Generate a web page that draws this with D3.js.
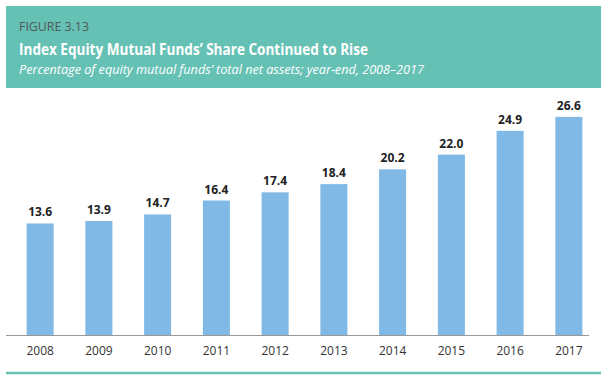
<!DOCTYPE html>
<html>
<head>
<meta charset="utf-8">
<script src="https://cdnjs.cloudflare.com/ajax/libs/d3/7.8.5/d3.min.js"></script>
<style>
  body { margin: 0; background: #fff; }
  svg { display: block; }
</style>
</head>
<body>
<script>
    // chart data
    var years = ['2008', '2009', '2010', '2011', '2012', '2013', '2014', '2015', '2016', '2017']
    var shares = [13.6, 13.9, 14.7, 16.4, 17.4, 18.4, 20.2, 22.0, 24.9, 26.6]
    var figureLabel = 'FIGURE 3.13'
    var title = 'Index Equity Mutual Funds\u2019 Share Continued to Rise'
    var subtitle = 'Percentage of equity mutual funds\u2019 total net assets; year-end, 2008\u20132017'

    var width = 606,
        height = 380,
        teal = '#66c1b5',
        barColor = '#80b9e5'

    var svg = d3.select('body').
    append('svg').
    attr('width', width).
    attr('height', height)

    // header box
    svg.append('rect').
    attr('x', 6).
    attr('y', 6).
    attr('width', 595).
    attr('height', 82).
    attr('fill', teal)

    svg.append('text').
    attr('x', 19).
    attr('y', 31).
    attr('textLength', 70).
    attr('lengthAdjust', 'spacingAndGlyphs').
    style('font-family', 'Open Sans').
    style('font-size', '13px').
    style('fill', '#4f5a58').
    text(figureLabel)

    svg.append('text').
    attr('x', 19).
    attr('y', 55).
    attr('textLength', 349).
    attr('lengthAdjust', 'spacingAndGlyphs').
    style('font-family', 'Open Sans').
    style('font-weight', 'bold').
    style('font-size', '16px').
    style('fill', '#fff').
    text(title)

    svg.append('text').
    attr('x', 19).
    attr('y', 74).
    attr('textLength', 405).
    attr('lengthAdjust', 'spacingAndGlyphs').
    style('font-family', 'Open Sans').
    style('font-style', 'italic').
    style('font-size', '12.5px').
    style('fill', '#fff').
    text(subtitle)

    // scales
    var x = d3.scaleBand().
    domain(years).
    range([9, 600]).
    paddingInner(0.54).
    paddingOuter(0.3)

    var y = d3.scaleLinear().
    domain([0, 30]).
    range([335, 89])

    // bars
    svg.selectAll('rect.bar').
    data(shares).
    enter().
    append('rect').
    attr('class', 'bar').
    attr('x', function(d, i) {
        return x(years[i])
    }).
    attr('y', function(d) {
        return y(d)
    }).
    attr('width', x.bandwidth()).
    attr('height', function(d) {
        return y(0) - y(d)
    }).
    attr('fill', barColor)

    // value labels
    svg.selectAll('text.value').
    data(shares).
    enter().
    append('text').
    attr('class', 'value').
    attr('x', function(d, i) {
        return x(years[i]) + x.bandwidth() / 2
    }).
    attr('y', function(d) {
        return y(d) - 7
    }).
    attr('text-anchor', 'middle').
    style('font-family', 'Open Sans').
    style('font-weight', 'bold').
    style('font-size', '12px').
    style('fill', '#222').
    text(function(d) {
        return d.toFixed(1)
    })

    // x axis
    var xAxis = d3.axisBottom(x).tickSize(0).tickPadding(11)
    var gx = svg.append('g').
    attr('transform', 'translate(0,' + y(0) + ')').
    call(xAxis)
    gx.select('.domain').remove()
    gx.selectAll('text').
    style('font-family', 'Open Sans').
    style('font-size', '12px').
    style('fill', '#333')

    svg.append('line').
    attr('x1', 6).
    attr('x2', 589).
    attr('y1', y(0) + 0.5).
    attr('y2', y(0) + 0.5).
    attr('stroke', '#999').
    attr('stroke-width', 1)

    // bottom rule
    svg.append('line').
    attr('x1', 6).
    attr('x2', 601).
    attr('y1', 373).
    attr('y2', 373).
    attr('stroke', teal).
    attr('stroke-width', 2.5)
</script>
</body>
</html>
